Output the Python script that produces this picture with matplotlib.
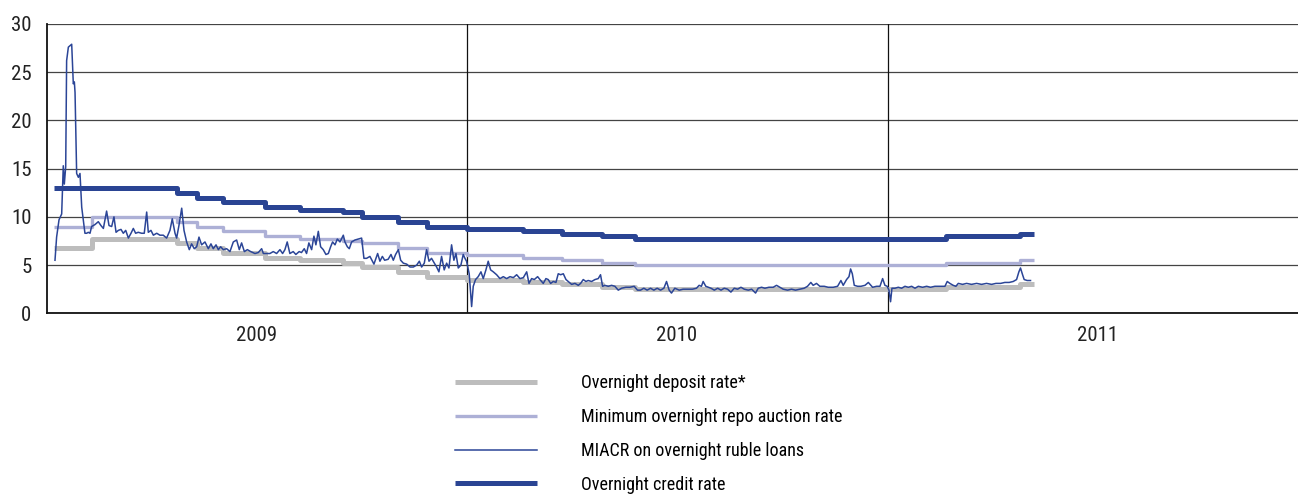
import pandas as pd
import matplotlib.pyplot as plt

plt.rcParams['font.family'] = ['Roboto Condensed', 'DejaVu Sans']
plt.rcParams['font.stretch'] = 'condensed'

start = pd.Timestamp('2009-01-01')
years = ['2009', '2010', '2011']

# days since 1 Jan 2009 when the CBR rates changed (last value = end of data)
change_day = [6, 39, 113, 130.5, 153, 189.5, 220, 257, 273.5, 305, 330,
              364.5, 413.5, 447, 482, 511, 781, 845, 857]
credit_rate = [13, 13, 12.5, 12, 11.5, 11, 10.75, 10.5, 10, 9.5, 9,
               8.75, 8.5, 8.25, 8, 7.75, 8, 8.25]
repo_rate = [9, 10, 9.5, 9, 8.5, 8, 7.75, 7.5, 7.25, 6.75, 6.25,
             6, 5.75, 5.5, 5.25, 5, 5.25, 5.5]
deposit_rate = [6.75, 7.75, 7.25, 6.75, 6.25, 5.75, 5.5, 5.25, 4.75, 4.25, 3.75,
                3.5, 3.25, 3, 2.75, 2.5, 2.75, 3]

# MIACR overnight, days since 1 Jan 2009
miacr_day = [
    7.2, 8.6, 10.7, 13.0, 14.4, 15.3, 16.5, 17.3, 18.8, 21.7, 23.1, 24.0, 24.6, 26.0,
    27.5, 28.9, 30.4, 33.2, 34.7, 36.1, 37.6, 39.0, 41.9, 44.8, 47.1, 49.2, 52.0, 54.1,
    56.4, 58.4, 60.2, 62.2, 64.5, 66.5, 68.6, 70.9, 73.2, 75.2, 77.2, 79.5, 82.4, 84.7,
    86.8, 88.2, 90.5, 92.6, 95.5, 98.3, 101.2, 104.1, 107.0, 109.0, 111.4, 112.8, 114.8,
    117.2, 119.2, 121.5, 123.8, 125.8, 128.1, 130.2, 132.2, 134.5, 137.4, 140.3, 142.6, 144.6,
    147.0, 149.0, 151.0, 153.3, 156.2, 159.1, 162.0, 164.9, 167.2, 169.2, 171.6, 174.2,
    177.1, 180.8, 183.7, 186.6, 188.1, 191.0, 193.8, 196.7, 199.6, 202.5, 204.8, 206.8,
    208.8, 211.1, 214.0, 216.3, 219.2, 221.2, 223.6, 225.6, 227.6, 230.0, 232.0, 233.7,
    235.8, 237.8, 240.1, 242.4, 244.5, 246.5, 248.2, 250.3, 252.3, 254.6, 257.5, 258.9,
    261.0, 262.7, 264.7, 267.6, 270.5, 273.4, 275.4, 277.7, 280.6, 284.1,
    287.3, 289.3, 291.4, 293.4, 296.4, 298.9, 300.9, 302.9, 305.3, 307.3, 309.6, 312.5,
    315.4, 318.3, 321.2, 323.5, 325.5, 327.8, 329.8, 331.9, 334.1, 336.5, 338.5, 340.5,
    342.8, 345.1, 347.2, 349.2, 351.5, 353.5, 355.3, 357.3, 359.6, 361.6, 363.1, 364.5,
    366.8, 368.9, 370.3, 372.3, 374.6, 377.0, 379.0, 381.3, 383.3, 385.4, 387.7, 390.6,
    393.5, 396.4, 399.3, 402.2, 405.1, 408.0, 410.9, 413.8, 416.7, 418.7, 421.0, 423.3, 426.2,
    428.2, 431.1, 433.4, 435.4, 437.5, 439.8, 442.1, 444.1, 446.2, 448.5, 450.8, 452.8,
    455.7, 458.6, 461.5, 463.5, 465.8, 468.1, 470.1, 473.1, 476.0, 478.8, 480.8, 482.6,
    484.6, 487.5, 490.4, 493.3, 496.2, 499.1, 502.8, 506.3, 510.0, 512.9, 515.5, 518.4,
    521.3, 524.2, 527.1, 530.0, 532.9, 535.8, 538.1, 540.4, 542.4, 545.3, 549.1, 552.5,
    556.9, 560.6, 564.1, 566.4, 568.4, 569.9, 572.2,
    576.7, 579.6, 582.5, 585.4, 588.2, 591.1, 594.0, 596.9, 599.8, 602.7, 605.6, 609.1,
    612.0, 615.4, 617.7, 620.6, 623.5, 627.0, 630.7, 633.6, 636.5, 639.4, 643.2, 646.6,
    650.1, 653.9, 657.6, 660.5, 663.4, 665.4, 668.3, 671.2, 675.0, 678.5, 682.8, 686.6,
    689.5, 691.5, 694.4, 696.5, 697.9, 699.4, 701.1, 704.0, 706.9, 710.4, 713.3,
    717.0, 720.5, 723.4, 725.7, 727.7, 729.7, 731.2, 732.6, 733.8, 736.4, 739.3, 742.2,
    745.1, 748.0, 750.9, 753.8, 756.7, 760.4, 763.9, 767.3, 771.1, 774.0, 776.9, 779.8,
    781.8, 784.1, 787.0, 789.3, 791.4, 795.1, 798.6, 802.9, 807.3, 811.6, 815.9, 820.3,
    824.1, 828.1, 831.8, 835.6, 839.1, 842.0, 844.0, 845.4, 847.2, 848.6, 851.2, 854.1]
miacr_val = [
    5.5, 7.9, 9.7, 10.3, 15.3, 13.4, 15.2, 26.2, 27.6, 27.9, 23.8, 24.0, 22.9, 14.5,
    14.1, 14.5, 11.0, 8.3, 8.3, 8.4, 8.3, 9.0, 9.2, 9.5, 9.1, 8.8, 10.6, 9.1,
    9.0, 10.0, 8.4, 8.6, 8.7, 8.3, 8.6, 7.8, 8.3, 8.8, 8.3, 8.4, 8.3, 8.3,
    10.5, 8.4, 8.6, 8.1, 8.3, 8.1, 8.1, 7.8, 8.6, 9.8, 8.3, 7.8, 9.1,
    10.9, 8.6, 7.4, 6.6, 7.2, 6.7, 6.9, 7.9, 7.1, 7.4, 6.7, 7.2, 6.7,
    7.1, 6.6, 6.9, 6.6, 6.7, 6.4, 7.4, 7.6, 6.6, 7.3, 6.4, 6.6,
    6.4, 6.2, 6.3, 6.7, 6.2, 6.2, 6.2, 6.4, 6.2, 6.6, 6.2, 6.6,
    7.4, 6.2, 6.4, 6.1, 6.4, 6.3, 6.7, 6.2, 7.3, 6.6, 8.0, 7.1,
    8.5, 6.9, 6.6, 6.1, 6.2, 6.9, 7.4, 7.1, 7.7, 7.4, 8.1, 7.4,
    6.9, 6.7, 7.4, 7.6, 7.7, 7.8, 5.7, 5.7, 5.9, 5.1,
    6.2, 5.4, 5.9, 5.5, 5.6, 6.1, 5.5, 6.1, 6.6, 5.5, 5.2, 5.1,
    4.8, 4.8, 5.0, 5.4, 4.8, 5.2, 6.6, 5.4, 5.7, 5.2, 4.8, 4.3,
    5.9, 4.5, 5.2, 4.7, 7.1, 5.5, 6.2, 4.7, 5.0, 6.1, 5.7, 5.4,
    4.1, 0.7, 2.8, 3.5, 3.8, 4.3, 3.6, 4.5, 5.4, 4.5, 4.3, 4.0,
    3.6, 3.8, 3.6, 3.8, 3.7, 4.0, 3.6, 3.7, 4.3, 3.1, 3.6, 3.5, 3.8,
    3.5, 3.1, 3.6, 3.5, 3.1, 3.3, 3.2, 4.1, 4.0, 4.1, 3.5, 3.3,
    3.0, 3.1, 2.9, 3.1, 3.5, 3.3, 3.4, 3.3, 3.5, 3.6, 4.0, 2.8,
    2.9, 2.8, 2.9, 2.8, 2.4, 2.6, 2.7, 2.7, 2.8, 2.4, 2.4, 2.6,
    2.4, 2.6, 2.4, 2.6, 2.4, 2.6, 3.3, 2.4, 2.1, 2.6, 2.4, 2.5,
    2.5, 2.5, 2.6, 2.9, 2.8, 3.3, 2.8,
    2.6, 2.4, 2.6, 2.4, 2.6, 2.5, 2.2, 2.6, 2.5, 2.7, 2.5, 2.4,
    2.5, 2.1, 2.6, 2.7, 2.6, 2.7, 2.7, 2.9, 2.7, 2.5, 2.4, 2.5,
    2.4, 2.5, 2.6, 2.8, 3.2, 2.9, 3.1, 2.8, 2.8, 2.7, 2.7, 2.8,
    3.4, 2.9, 3.5, 3.8, 4.6, 4.1, 2.9, 2.8, 2.8, 2.9, 3.2,
    2.7, 2.8, 2.8, 3.6, 2.9, 2.8, 2.4, 1.2, 2.6, 2.6, 2.7, 2.6,
    2.8, 2.7, 2.8, 2.6, 2.8, 2.7, 2.8, 2.7, 2.8, 2.8, 2.8, 2.8,
    3.3, 3.1, 2.9, 2.8, 3.1, 3.0, 3.1, 3.0, 3.1, 3.0, 3.1, 3.0,
    3.1, 3.1, 3.2, 3.2, 3.3, 3.5, 4.3, 4.7, 4.0, 3.5, 3.4, 3.4]

labels = ['Overnight deposit rate*', 'Minimum overnight repo auction rate',
          'MIACR on overnight ruble loans', 'Overnight credit rate']


def to_dates(days):
    return start + pd.to_timedelta(days, unit='D')


steps = to_dates(change_day)

fig = plt.figure(figsize=(12.98, 4.94), dpi=100)
ax = fig.add_axes([46.7 / 1298, 1 - 313.3 / 494, 1261.3 / 1298, 289.3 / 494])

ax.step(steps, deposit_rate + [deposit_rate[-1]], where='post', color='#bdbdbd',
        lw=3.6, solid_capstyle='butt', label=labels[0], zorder=3)
ax.step(steps, repo_rate + [repo_rate[-1]], where='post', color='#adb0d6',
        lw=2.4, solid_capstyle='butt', label=labels[1], zorder=3)
ax.plot(to_dates(miacr_day), miacr_val, color='#2b4597', lw=1.1,
        label=labels[2], zorder=4)
ax.step(steps, credit_rate + [credit_rate[-1]], where='post', color='#2a4493',
        lw=3.6, solid_capstyle='butt', label=labels[3], zorder=5)

ax.set_xlim(start, pd.Timestamp('2012-01-01'))
ax.set_ylim(0, 30)
ax.set_yticks(range(0, 31, 5))
ax.set_xticks([pd.Timestamp(y + '-07-02') for y in years])
ax.set_xticklabels(years)
ax.tick_params(length=0, labelsize=15, colors='#222222')
ax.tick_params(axis='y', pad=11)
ax.tick_params(axis='x', pad=9)

ax.grid(axis='y', color='#444444', lw=0.9)
ax.set_axisbelow(True)
for y in years[1:]:
    ax.axvline(pd.Timestamp(y + '-01-01'), color='#111111', lw=0.9, zorder=2)

ax.spines['top'].set_visible(False)
ax.spines['right'].set_visible(False)
ax.spines['left'].set_color('#111111')
ax.spines['bottom'].set_color('#111111')
ax.spines['left'].set_linewidth(1.3)
ax.spines['bottom'].set_linewidth(1.3)

fig.legend(loc='upper left', bbox_to_anchor=(455 / 1298, 1 - 374.5 / 494),
           frameon=False, fontsize=13, handlelength=4.54, handletextpad=2.44,
           labelspacing=0.87, borderpad=0, borderaxespad=0)

plt.savefig('out.png', dpi=100)
